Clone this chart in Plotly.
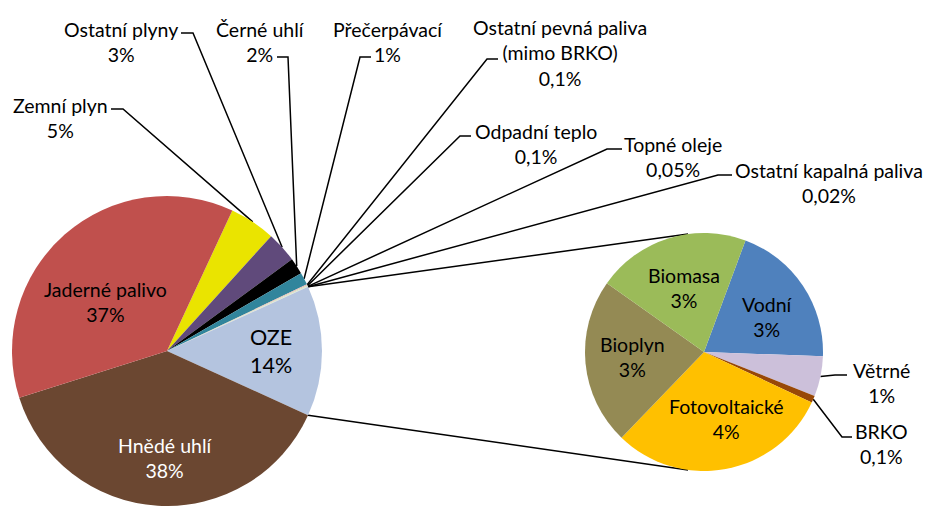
import math
import plotly.graph_objects as go

W, H = 927, 506

# ---- data -------------------------------------------------------------
main_labels = ["Zemní plyn", "Ostatní plyny", "Černé uhlí", "Přečerpávací",
               "Ostatní pevná paliva<br>(mimo BRKO)", "Odpadní teplo", "Topné oleje",
               "Ostatní kapalná paliva", "OZE", "Hnědé uhlí", "Jaderné palivo"]
main_values = [4.8, 3.2, 1.7, 1.3, 0.1, 0.1, 0.05, 0.02, 13.6, 38.3, 36.8]
main_text = ["5%", "3%", "2%", "1%", "0,1%", "0,1%", "0,05%", "0,02%", "14%", "38%", "37%"]

sub_labels = ["Vodní", "Větrné", "BRKO", "Fotovoltaické", "Bioplyn", "Biomasa"]
sub_values = [2.7, 0.74, 0.13, 4.1, 3.07, 2.83]
sub_text = ["3%", "1%", "0,1%", "4%", "3%", "3%"]

# ---- style ------------------------------------------------------------
main_colors = ["#EAE400", "#604A7B", "#000000", "#31859C", "#E6B9B8", "#D7E4BD",
               "#B7DEE8", "#FCD5B5", "#B4C4DF", "#6B4731", "#C0504D"]
sub_colors = ["#4F81BD", "#CCC0DA", "#984807", "#FFC000", "#948A54", "#9BBB59"]

FONT = "Lato"
FS = 19.5

main_cx, main_cy, main_r = 167, 351, 155
sub_cx, sub_cy, sub_r = 704, 352, 119
split_idx = main_labels.index("OZE")
sub_rotation = 20.4
connector_offset = 7.7  # degrees from vertical on second pie

main_total = sum(main_values)
before = sum(main_values[:split_idx])
main_rotation = 90 - (before + main_values[split_idx] / 2) / main_total * 360


def domain(cx, cy, r):
    return dict(x=[(cx - r) / W, (cx + r) / W], y=[(H - cy - r) / H, (H - cy + r) / H])


def polar(cx, cy, r, ang):
    a = math.radians(ang)
    return (cx + r * math.sin(a), cy - r * math.cos(a))


def mid_points(values, rotation, cx, cy, r):
    total = sum(values)
    pts, cum = [], 0
    for v in values:
        pts.append(polar(cx, cy, r, rotation + (cum + v / 2) / total * 360))
        cum += v
    return pts


main_pts = mid_points(main_values, main_rotation, main_cx, main_cy, main_r)
sub_pts = mid_points(sub_values, sub_rotation, sub_cx, sub_cy, sub_r)

fig = go.Figure()
fig.add_trace(go.Pie(labels=main_labels, values=main_values, sort=False,
                     direction="clockwise", rotation=main_rotation,
                     marker=dict(colors=main_colors, line=dict(width=0)),
                     textinfo="none", textposition="none", hoverinfo="label+text",
                     text=main_text, showlegend=False,
                     domain=domain(main_cx, main_cy, main_r)))
fig.add_trace(go.Pie(labels=sub_labels, values=sub_values, sort=False,
                     direction="clockwise", rotation=sub_rotation,
                     marker=dict(colors=sub_colors, line=dict(width=0)),
                     textinfo="none", textposition="none", hoverinfo="label+text",
                     text=sub_text, showlegend=False,
                     domain=domain(sub_cx, sub_cy, sub_r)))

# ---- leader lines & labels -------------------------------------------
# label: (series, index, text centre x, y, elbow x, y, stub end x)
leaders = [
    ("m", 0, 60, 118, 123, 109, 111),
    ("m", 1, 121, 42, 193, 33, 181),
    ("m", 2, 260, 42, 288, 57, 277),
    ("m", 3, 388, 42, 360, 57, 371),
    ("m", 4, 560, 53, 487, 59, 498),
    ("m", 5, 536, 144, 460, 136, 471),
    ("m", 6, 673, 157, 607, 149, 622),
    ("m", 7, 829, 183, 718, 175, 732),
    ("s", 1, 881, 383, 835, 375, 847),
    ("s", 2, 881, 444, 842, 437, 852),
]

lx, ly = [], []
annotations = []
for ser, i, tx, ty, ex, ey, sx in leaders:
    p = main_pts[i] if ser == "m" else sub_pts[i]
    lab = main_labels[i] if ser == "m" else sub_labels[i]
    txt = main_text[i] if ser == "m" else sub_text[i]
    lx += [p[0], ex, sx, None]
    ly += [p[1], ey, ey, None]
    annotations.append(dict(x=tx, y=ty, xref="x", yref="y", text=f"{lab}<br>{txt}",
                            showarrow=False, align="center", xanchor="center",
                            yanchor="middle", font=dict(family=FONT, size=FS, color="#000")))

# connector lines between the two pies
oze_start = main_rotation + before / main_total * 360
oze_end = oze_start + main_values[split_idx] / main_total * 360
a1 = polar(main_cx, main_cy, main_r, oze_start)
a2 = polar(main_cx, main_cy, main_r, oze_end)
b1 = polar(sub_cx, sub_cy, sub_r, 360 - connector_offset)
b2 = polar(sub_cx, sub_cy, sub_r, 180 + connector_offset)
lx += [a1[0], b1[0], None, a2[0], b2[0], None]
ly += [a1[1], b1[1], None, a2[1], b2[1], None]

fig.add_trace(go.Scatter(x=lx, y=ly, mode="lines", line=dict(color="#000", width=1.5),
                         hoverinfo="skip", showlegend=False))

# inside labels: (series, index, x, y, colour, size)
inside = [
    ("m", 10, 105, 302, "#000", FS),
    ("m", 8, 271, 351, "#000", FS + 2),
    ("m", 9, 165, 458, "#fff", FS),
    ("s", 5, 684, 288, "#000", FS),
    ("s", 0, 767, 317, "#000", FS),
    ("s", 4, 632, 357, "#000", FS),
    ("s", 3, 726, 419, "#000", FS),
]
for ser, i, x, y, col, sz in inside:
    lab = main_labels[i] if ser == "m" else sub_labels[i]
    txt = main_text[i] if ser == "m" else sub_text[i]
    annotations.append(dict(x=x, y=y, xref="x", yref="y", text=f"{lab}<br>{txt}",
                            showarrow=False, align="center", xanchor="center",
                            yanchor="middle", font=dict(family=FONT, size=sz, color=col)))

fig.update_layout(
    width=W, height=H, autosize=False,
    margin=dict(l=0, r=0, t=0, b=0),
    paper_bgcolor="white", plot_bgcolor="rgba(0,0,0,0)",
    xaxis=dict(range=[0, W], visible=False, fixedrange=True),
    yaxis=dict(range=[H, 0], visible=False, fixedrange=True),
    annotations=annotations,
    font=dict(family=FONT, size=FS),
)

fig.write_html("out.html", config={"displayModeBar": False},
               post_script="document.body.style.margin='0';document.body.style.overflow='hidden';")
